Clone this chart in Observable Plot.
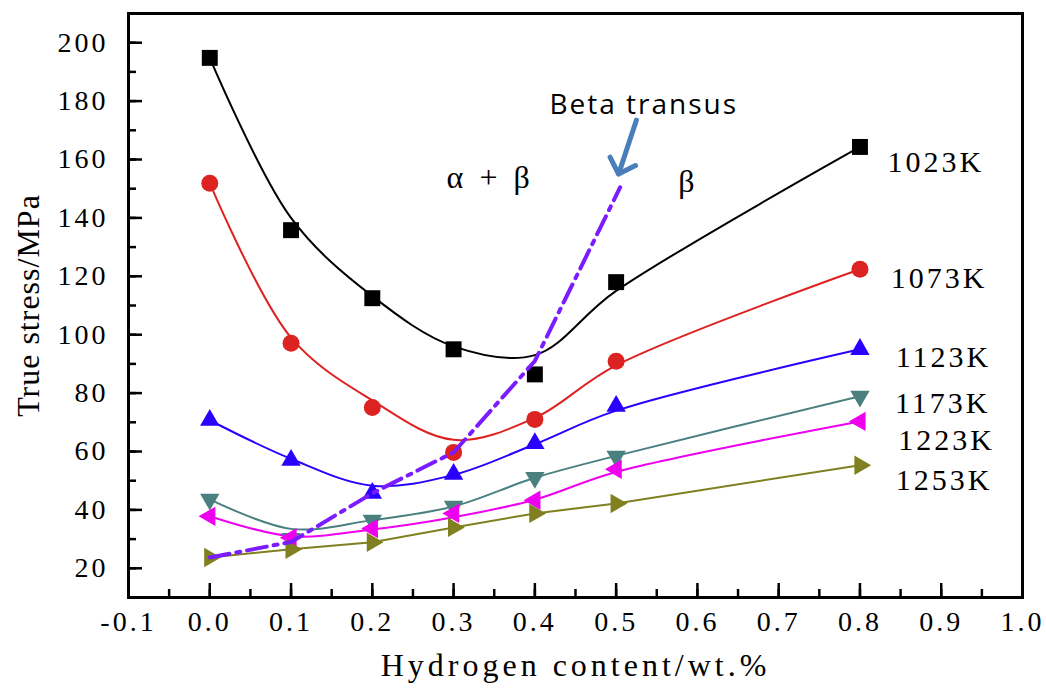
<!DOCTYPE html>
<html><head><meta charset="utf-8">
<script src="https://cdn.jsdelivr.net/npm/d3@7"></script>
<script src="https://cdn.jsdelivr.net/npm/@observablehq/plot@0.6"></script>
<style>
body{margin:0;background:#fff;}
#chart svg text{font-family:"Liberation Serif","Times New Roman",serif;}
g[aria-label="y-axis tick label"] text, g[aria-label="x-axis tick label"] text{letter-spacing:3px;}
#chart svg text[aria-label="series-label"]{letter-spacing:3px;}
#chart svg text[aria-label="x-title"]{letter-spacing:4px;}
#chart svg text[aria-label="y-title"]{letter-spacing:1px;}
#chart svg text[aria-label="beta-label"]{letter-spacing:2px;font-family:"Open Sans","DejaVu Sans",sans-serif;}
#chart svg text[aria-label="phase-label"]{letter-spacing:4px;}
</style></head><body><div id="chart"></div>
<script>
// Hydrogen content (wt.%)
const hydrogen = [0, 0.1, 0.2, 0.3, 0.4, 0.5, 0.8];
const temps = ["1023K", "1073K", "1123K", "1173K", "1223K", "1253K"];
// Measured true stress (MPa)
const stress1023 = [194.8, 135.8, 112.5, 95.0, 86.4, 118.0, 164.3];
const stress1073 = [151.9, 97.1, 75.1, 59.7, 71.0, 90.9, 122.4];
const stress1123 = [70.7, 57.0, 45.7, 52.2, 62.8, 75.5, 95.0];
const stress1173 = [43.6, 30.2, 36.4, 41.2, 51.1, 58.3, 78.9];
const stress1223 = [37.8, 30.5, 33.6, 38.8, 43.3, 53.9, 70.3];
const stress1253 = [23.7, 26.5, 28.9, 34.0, 38.8, 42.2, 55.3];
// Fitted curve values read at the same hydrogen contents
const fit1023 = [194.8, 140.0, 113.2, 96.0, 93.0, 115.0, 164.3];
const fit1073 = [151.9, 99.0, 77.5, 64.0, 71.5, 89.5, 122.4];
const fit1123 = [70.7, 57.5, 48.3, 52.0, 62.5, 74.0, 95.0];
const fit1173 = [43.6, 33.5, 36.5, 41.2, 51.0, 58.5, 78.9];
const fit1223 = [37.8, 31.0, 33.3, 37.5, 43.5, 53.0, 70.3];
const fit1253 = [23.7, 26.5, 28.9, 34.0, 38.8, 42.2, 55.3];
// Beta transus line
const transusX = [0, 0.1, 0.2, 0.3, 0.4, 0.505];
const transusY = [23.7, 29.0, 45.7, 59.7, 91.0, 150.5];
// Styles per series
const seriesColors = ["#000000", "#dd2222", "#2a00ff", "#4b8080", "#ee00ee", "#808020"];
const seriesSymbols = ["square", "circle", "triangle", "triangle", "triangle", "triangle"];
const seriesRotate = [0, 0, 0, 180, -90, 90];
const seriesR = [9, 8.5, 7.2, 7.2, 7.2, 7.2];
const seriesCurve = ["catmull-rom", "catmull-rom", "catmull-rom", "catmull-rom", "catmull-rom", "linear"];
// Label positions (data coords)
const labelX = [0.834, 0.838, 0.844, 0.843, 0.847, 0.844];
const labelY = [159.0, 119.4, 92.3, 76.5, 63.8, 50.1];
const phaseText = ["α + β", "β"];
const phaseX = [0.345, 0.589];
const phaseY = [153.6, 152.5];
const betaText = "Beta transus";
const betaX = 0.534, betaY = 178.7;
const arrowFrom = [0.525, 173.5];
const arrowTo = [0.503, 155.0];
// Ticks
const yTicks = d3.range(20, 201, 20);
const yMinor = d3.range(10, 211, 10);
const xTicks = d3.range(-1, 11).map(d => d / 10);
const xMinor = d3.range(-2, 21).map(d => d / 20);

const stressAll = [stress1023, stress1073, stress1123, stress1173, stress1223, stress1253];
const fitAll = [fit1023, fit1073, fit1123, fit1173, fit1223, fit1253];

const frameW = 1046 - 128 - 24;
const frameH = 688 - 13 - 91;
const serif = "Liberation Serif";

const marks = [];
marks.push(Plot.tickY(yMinor, {y: d => d, insetRight: frameW - 8, strokeWidth: 2.5, stroke: "#000"}));
marks.push(Plot.tickY(yTicks, {y: d => d, insetRight: frameW - 14, strokeWidth: 2.5, stroke: "#000"}));
marks.push(Plot.tickX(xMinor, {x: d => d, insetTop: frameH - 8, strokeWidth: 2.5, stroke: "#000"}));
marks.push(Plot.tickX(xTicks, {x: d => d, insetTop: frameH - 14, strokeWidth: 2.5, stroke: "#000"}));
marks.push(Plot.axisY({ticks: yTicks, tickSize: 0, tickPadding: 20, label: null, tickFormat: d => String(d), fontSize: 28, fontFamily: serif}));
marks.push(Plot.axisX({ticks: xTicks, tickSize: 0, tickPadding: 14, label: null, tickFormat: d => d.toFixed(1), fontSize: 28, fontFamily: serif}));

temps.forEach((t, i) => {
  const rows = hydrogen.map((h, j) => ({h, f: fitAll[i][j]}));
  marks.push(Plot.line(rows, {x: "h", y: "f", stroke: seriesColors[i], strokeWidth: 2, curve: seriesCurve[i]}));
});
temps.forEach((t, i) => {
  const rows = hydrogen.map((h, j) => ({h, v: stressAll[i][j]}));
  marks.push(Plot.dot(rows, {x: "h", y: "v", symbol: seriesSymbols[i], r: seriesR[i], rotate: seriesRotate[i], fill: seriesColors[i], stroke: "none"}));
});

const transusRows = transusX.map((x, i) => ({x, y: transusY[i]}));
marks.push(Plot.line(transusRows, {x: "x", y: "y", stroke: "#7a1cff", strokeWidth: 4, strokeDasharray: "20,7,4,7", curve: "linear"}));

marks.push(Plot.arrow([{x1: arrowFrom[0], y1: arrowFrom[1], x2: arrowTo[0], y2: arrowTo[1]}], {x1: "x1", y1: "y1", x2: "x2", y2: "y2", stroke: "#4a7ebb", strokeWidth: 5, headLength: 7, headAngle: 90}));

marks.push(Plot.text(temps, {x: (d, i) => labelX[i], y: (d, i) => labelY[i], text: d => d, textAnchor: "start", fontSize: 30, fontFamily: serif, fill: "#000", ariaLabel: () => "series-label"}));
marks.push(Plot.text(phaseText, {x: (d, i) => phaseX[i], y: (d, i) => phaseY[i], text: d => d, fontSize: 32, fontFamily: serif, fill: "#000", ariaLabel: () => "phase-label"}));
marks.push(Plot.text([betaText], {x: () => betaX, y: () => betaY, text: d => d, fontSize: 28, fontFamily: "Open Sans", fill: "#000", ariaLabel: () => "beta-label"}));
marks.push(Plot.text(["Hydrogen content/wt.%"], {frameAnchor: "bottom", dy: 68, textAnchor: "middle", lineAnchor: "middle", text: d => d, fontSize: 32, fontFamily: serif, fill: "#000", ariaLabel: () => "x-title"}));
marks.push(Plot.text(["True stress/MPa"], {frameAnchor: "left", dx: -100, rotate: -90, textAnchor: "middle", lineAnchor: "middle", text: d => d, fontSize: 32, fontFamily: serif, fill: "#000", ariaLabel: () => "y-title"}));
marks.push(Plot.frame({stroke: "#000", strokeWidth: 3}));

const chart = Plot.plot({
  width: 1046, height: 688,
  marginLeft: 128, marginRight: 24, marginTop: 13, marginBottom: 91,
  x: {domain: [-0.1, 1.0]},
  y: {domain: [10, 210]},
  style: {fontFamily: "Liberation Serif", fontSize: "28px", color: "#000", background: "#fff"},
  marks
});
document.getElementById("chart").appendChild(chart);
</script>
</body></html>
